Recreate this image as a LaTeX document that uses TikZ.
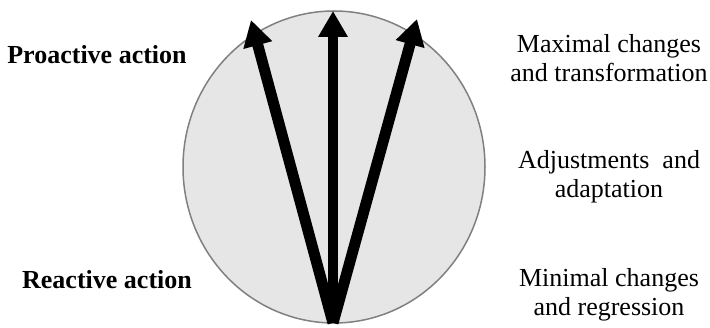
\documentclass[tikz,border=0pt]{standalone}
\usepackage{fontspec}
\setmainfont{LiberationSerif}[Extension=.ttf, UprightFont=*-Regular, BoldFont=*-Bold]
\usetikzlibrary{arrows.meta}
\definecolor{discfill}{HTML}{E6E6E6}
\definecolor{discline}{HTML}{808080}
\begin{document}
\begin{tikzpicture}[x=1pt, y=-1pt,
    lefttext/.style={font=\fontsize{26}{30}\selectfont\bfseries},
    righttext/.style={font=\fontsize{26}{29}\selectfont, align=center},
    bigarrow/.style={line width=11pt, -{Triangle[length=26pt, width=28pt]}}]
  \useasboundingbox (0,0) rectangle (710,328);
  % disc
  \draw[fill=discfill, draw=discline, line width=1.5pt] (334,167) ellipse (151 and 156);
  % arrows from the bottom point
  \coordinate (base) at (333,323);
  \coordinate (tipL) at (251,20);
  \coordinate (tipM) at (333,11);
  \coordinate (tipR) at (417,19);
  \draw[bigarrow] (base) -- (tipL);
  \draw[bigarrow, line width=9.5pt] (base) -- (tipM);
  \draw[bigarrow] (base) -- (tipR);
  % left labels
  \node[lefttext] (proactive) at (97,55) {Proactive action};
  \node[lefttext] (reactive) at (107,280) {Reactive action};
  % right labels
  \node[righttext] (maximal) at (609,58) {Maximal changes\\and transformation};
  \node[righttext] (adjust) at (609,177) {Adjustments\ \ and\\adaptation};
  \node[righttext] (minimal) at (609,295) {Minimal changes\\and regression};
\end{tikzpicture}
\end{document}
